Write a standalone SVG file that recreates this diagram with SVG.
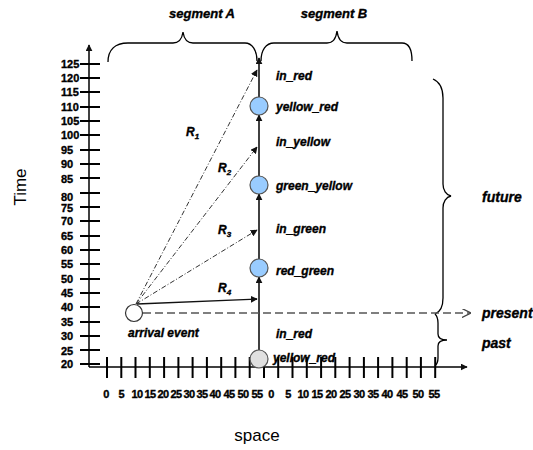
<svg xmlns="http://www.w3.org/2000/svg" width="533" height="450" viewBox="0 0 533 450">
<style>
.ax{stroke:#000;stroke-width:1.5;fill:none}
.tk{stroke:#000;stroke-width:2}
.num{font-family:"Liberation Sans",Arial,sans-serif;font-weight:bold;font-size:11px;fill:#000;stroke:#000;stroke-width:0.35}
.lbl{font-family:"Liberation Sans",Arial,sans-serif;font-weight:bold;font-style:italic;font-size:12px;fill:#000;stroke:#000;stroke-width:0.35}
.big{font-family:"Liberation Sans",Arial,sans-serif;font-weight:bold;font-style:italic;font-size:14px;fill:#000;stroke:#000;stroke-width:0.35}
.seg{font-family:"Liberation Sans",Arial,sans-serif;font-weight:bold;font-style:italic;font-size:13px;fill:#000;stroke:#000;stroke-width:0.35}
.title{font-family:"Liberation Sans",Arial,sans-serif;font-size:17px;fill:#000}
.brace{stroke:#000;stroke-width:1.3;fill:none}
.st{fill:#99ccff;stroke:#555;stroke-width:1.2}
.vl{stroke:#111;stroke-width:1.6;fill:none}
.ray{stroke:#333;stroke-width:1;fill:none;stroke-dasharray:5,2,1,2}
</style>
<defs>
<marker id="ah" viewBox="0 0 10 10" refX="9" refY="5" markerWidth="7" markerHeight="7" markerUnits="userSpaceOnUse" orient="auto">
<path d="M0,0 L10,5 L0,10 z" fill="#111"/>
</marker>
<marker id="open" viewBox="0 0 10 10" refX="9" refY="5" markerWidth="9" markerHeight="9" markerUnits="userSpaceOnUse" orient="auto">
<path d="M0,0 L10,5 L0,10" fill="none" stroke="#444" stroke-width="1.5"/>
</marker>
</defs>

<g id="axes">
<line class="ax" x1="89" y1="367" x2="89" y2="45" marker-end="url(#ah)"/>
<line class="ax" x1="89" y1="367" x2="467" y2="367" marker-end="url(#ah)"/>
<g id="ytick">
<line class="tk" x1="80" y1="364" x2="100" y2="364"/>
<line class="tk" x1="80" y1="350" x2="100" y2="350"/>
<line class="tk" x1="80" y1="336" x2="100" y2="336"/>
<line class="tk" x1="80" y1="322" x2="100" y2="322"/>
<line class="tk" x1="80" y1="307" x2="100" y2="307"/>
<line class="tk" x1="80" y1="293" x2="100" y2="293"/>
<line class="tk" x1="80" y1="279" x2="100" y2="279"/>
<line class="tk" x1="80" y1="264" x2="100" y2="264"/>
<line class="tk" x1="80" y1="250" x2="100" y2="250"/>
<line class="tk" x1="80" y1="236" x2="100" y2="236"/>
<line class="tk" x1="80" y1="221" x2="100" y2="221"/>
<line class="tk" x1="80" y1="207" x2="100" y2="207"/>
<line class="tk" x1="80" y1="193" x2="100" y2="193"/>
<line class="tk" x1="80" y1="178" x2="100" y2="178"/>
<line class="tk" x1="80" y1="164" x2="100" y2="164"/>
<line class="tk" x1="80" y1="150" x2="100" y2="150"/>
<line class="tk" x1="80" y1="135" x2="100" y2="135"/>
<line class="tk" x1="80" y1="121" x2="100" y2="121"/>
<line class="tk" x1="80" y1="107" x2="100" y2="107"/>
<line class="tk" x1="80" y1="92" x2="100" y2="92"/>
<line class="tk" x1="80" y1="78" x2="100" y2="78"/>
<line class="tk" x1="80" y1="64" x2="100" y2="64"/>
</g>
<g id="ylabels" class="num">
<text x="61" y="368">20</text>
<text x="61" y="355">25</text>
<text x="61" y="340">30</text>
<text x="61" y="326">35</text>
<text x="61" y="311">40</text>
<text x="61" y="297">45</text>
<text x="61" y="283">50</text>
<text x="61" y="268">55</text>
<text x="61" y="254">60</text>
<text x="61" y="240">65</text>
<text x="61" y="225">70</text>
<text x="61" y="212">75</text>
<text x="61" y="201">80</text>
<text x="61" y="183">85</text>
<text x="61" y="168">90</text>
<text x="61" y="154">95</text>
<text x="61" y="139">100</text>
<text x="61" y="125">105</text>
<text x="61" y="111">110</text>
<text x="61" y="96">115</text>
<text x="61" y="82">120</text>
<text x="61" y="68">125</text>
</g>
<g id="xtick">
<line class="tk" x1="107" y1="357" x2="107" y2="378"/>
<line class="tk" x1="121.3" y1="357" x2="121.3" y2="378"/>
<line class="tk" x1="135.5" y1="357" x2="135.5" y2="378"/>
<line class="tk" x1="149.8" y1="357" x2="149.8" y2="378"/>
<line class="tk" x1="164.1" y1="357" x2="164.1" y2="378"/>
<line class="tk" x1="178.4" y1="357" x2="178.4" y2="378"/>
<line class="tk" x1="192.6" y1="357" x2="192.6" y2="378"/>
<line class="tk" x1="206.9" y1="357" x2="206.9" y2="378"/>
<line class="tk" x1="221.2" y1="357" x2="221.2" y2="378"/>
<line class="tk" x1="235.4" y1="357" x2="235.4" y2="378"/>
<line class="tk" x1="249.7" y1="357" x2="249.7" y2="378"/>
<line class="tk" x1="264" y1="357" x2="264" y2="378"/>
<line class="tk" x1="278.2" y1="357" x2="278.2" y2="378"/>
<line class="tk" x1="292.5" y1="357" x2="292.5" y2="378"/>
<line class="tk" x1="306.8" y1="357" x2="306.8" y2="378"/>
<line class="tk" x1="321.1" y1="357" x2="321.1" y2="378"/>
<line class="tk" x1="335.3" y1="357" x2="335.3" y2="378"/>
<line class="tk" x1="349.6" y1="357" x2="349.6" y2="378"/>
<line class="tk" x1="363.9" y1="357" x2="363.9" y2="378"/>
<line class="tk" x1="378.1" y1="357" x2="378.1" y2="378"/>
<line class="tk" x1="392.4" y1="357" x2="392.4" y2="378"/>
<line class="tk" x1="406.7" y1="357" x2="406.7" y2="378"/>
<line class="tk" x1="420.9" y1="357" x2="420.9" y2="378"/>
<line class="tk" x1="435.2" y1="357" x2="435.2" y2="378"/>
</g>
<g id="xlabels" class="num" text-anchor="middle" letter-spacing="-0.5">
<text x="106" y="398">0</text>
<text x="121.3" y="398">5</text>
<text x="137" y="398">10</text>
<text x="150" y="398">15</text>
<text x="163" y="398">20</text>
<text x="176" y="398">25</text>
<text x="189" y="398">30</text>
<text x="202" y="398">35</text>
<text x="215" y="398">40</text>
<text x="229" y="398">45</text>
<text x="243" y="398">50</text>
<text x="257" y="398">55</text>
<text x="271" y="398">0</text>
<text x="288" y="398">5</text>
<text x="303" y="398">10</text>
<text x="317" y="398">15</text>
<text x="331" y="398">20</text>
<text x="345" y="398">25</text>
<text x="359" y="398">30</text>
<text x="373" y="398">35</text>
<text x="387" y="398">40</text>
<text x="402" y="398">45</text>
<text x="418" y="398">50</text>
<text x="434" y="398">55</text>
</g>
<text class="title" x="0" y="0" text-anchor="middle" transform="translate(26,187) rotate(-90)">Time</text>
<text class="title" x="257" y="441" text-anchor="middle">space</text>
</g>

<g id="braces">
<path class="brace" d="M108,62 C108,50 115,43 128,43 L173,43 C179,43 182,39 183,32 C184,39 187,43 193,43 L245,43 C252,43 257,50 257,61"/>
<path class="brace" d="M261,61 C261,50 266,43 274,43 L327,43 C333,43 336,39 337,31 C338,39 341,43 347,43 L402,43 C409,43 412,50 412,61"/>
<path class="brace" d="M433,79 C440,82 443,88 443,98 L443,184 C443,190 446,195 451,196 C446,197 443,202 443,208 L443,298 C443,308 440,312 435,314"/>
<path class="brace" d="M435,314 C437,316 438,319 438,323 L438,334 C438,338 442,340 447,340 C442,340 438,342 438,346 L438,358 C438,362 437,364 435,366"/>
<text class="seg" x="202" y="18" text-anchor="middle">segment A</text>
<text class="seg" x="334" y="18" text-anchor="middle">segment B</text>
<text class="big" x="482" y="202">future</text>
<text class="big" x="482" y="318">present</text>
<text class="big" x="482" y="348">past</text>
</g>

<g id="connectors">
<line class="vl" x1="259" y1="350" x2="259" y2="277" marker-end="url(#ah)"/>
<line class="vl" x1="259" y1="259" x2="259" y2="194" marker-end="url(#ah)"/>
<line class="vl" x1="259" y1="176" x2="259" y2="115" marker-end="url(#ah)"/>
<line class="vl" x1="259" y1="97" x2="259" y2="58" marker-end="url(#ah)"/>
<line class="ray" x1="136" y1="304" x2="257" y2="70" marker-end="url(#ah)"/>
<line class="ray" x1="136" y1="304" x2="257" y2="147" stroke="#444" marker-end="url(#ah)"/>
<line class="ray" x1="136" y1="304" x2="257" y2="230" marker-end="url(#ah)"/>
<line x1="137" y1="304" x2="257" y2="299" stroke="#111" stroke-width="1.3" marker-end="url(#ah)"/>
<line x1="143" y1="313" x2="470" y2="313" stroke="#555" stroke-width="1.6" stroke-dasharray="8,4" marker-end="url(#open)"/>
</g>

<g id="rlabels" class="lbl">
<text x="186" y="136">R<tspan font-size="8" dy="3">1</tspan></text>
<text x="218" y="172">R<tspan font-size="8" dy="3">2</tspan></text>
<text x="218" y="234">R<tspan font-size="8" dy="3">3</tspan></text>
<text x="218" y="292">R<tspan font-size="8" dy="3">4</tspan></text>
</g>

<g id="arrival-event">
<circle cx="134" cy="313" r="8.5" fill="#fff" stroke="#333" stroke-width="1.2"/>
<text class="lbl" x="128" y="337">arrival event</text>
</g>
<g id="in-red-top"><text class="lbl" x="276" y="80">in_red</text></g>
<g id="yellow-red-top">
<circle class="st" cx="259" cy="106" r="9"/>
<text class="lbl" x="276" y="111">yellow_red</text>
</g>
<g id="in-yellow"><text class="lbl" x="276" y="146">in_yellow</text></g>
<g id="green-yellow">
<circle class="st" cx="259" cy="185" r="9"/>
<text class="lbl" x="276" y="190">green_yellow</text>
</g>
<g id="in-green"><text class="lbl" x="276" y="233">in_green</text></g>
<g id="red-green">
<circle class="st" cx="259" cy="268" r="9"/>
<text class="lbl" x="276" y="275">red_green</text>
</g>
<g id="in-red-bottom"><text class="lbl" x="276" y="338">in_red</text></g>
<g id="yellow-red-bottom">
<circle cx="259" cy="359" r="9" fill="#e0e0e0" stroke="#555" stroke-width="1.2"/>
<text class="lbl" x="273" y="362">yellow_red</text>
</g>
</svg>
